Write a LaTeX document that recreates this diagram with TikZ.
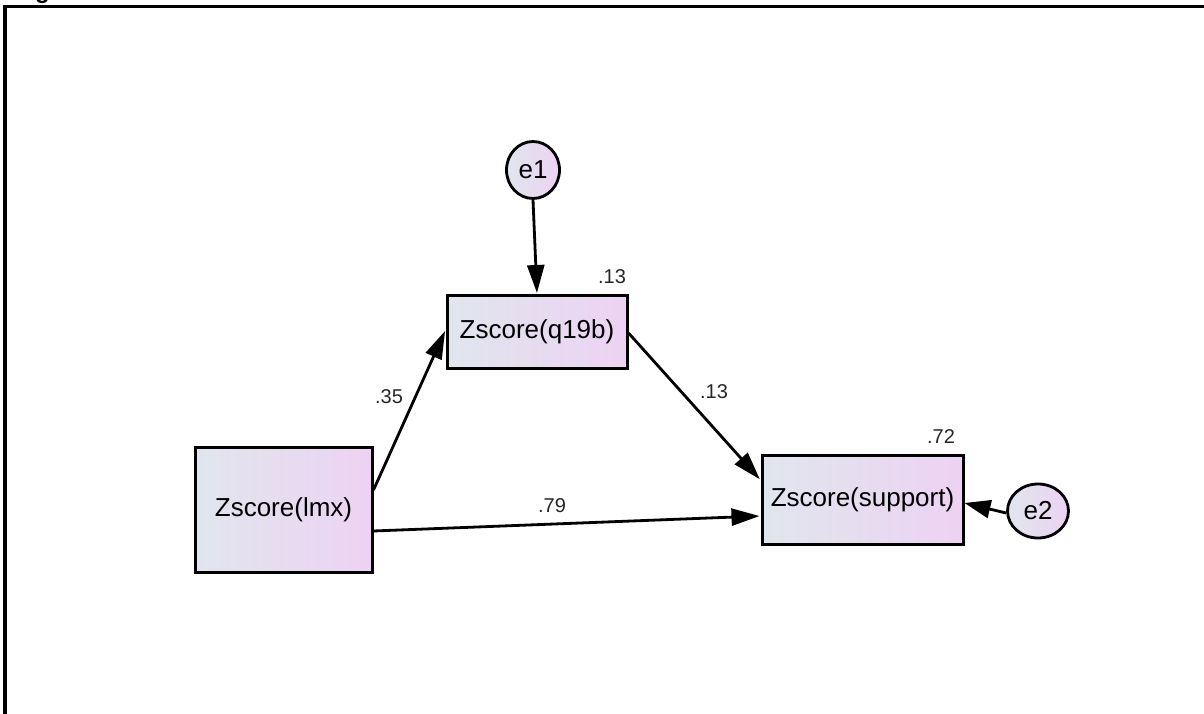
\documentclass[tikz,border=0pt]{standalone}
\usepackage{fontspec}
\setmainfont{Liberation Sans}
\usetikzlibrary{arrows.meta,shapes.geometric}
\definecolor{lgrey}{RGB}{224,230,237}
\definecolor{lpurp}{RGB}{237,210,243}
\tikzset{
  obs/.style={draw=black, line width=3pt, left color=lgrey, right color=lpurp,
    inner sep=0pt, font=\fontsize{26}{30}\selectfont},
  err/.style={ellipse, draw=black, line width=2.8pt, left color=lgrey, right color=lpurp,
    inner sep=0pt, font=\fontsize{26}{30}\selectfont},
  path/.style={line width=2.8pt, -{Triangle[length=28pt,width=17pt]}, shorten >=1pt},
  coef/.style={font=\fontsize{20}{24}\selectfont, text=black!85},
}
\begin{document}
\begin{tikzpicture}[x=1pt,y=-1pt]
\useasboundingbox (0,0) rectangle (1204,714);
% frame
\draw[line width=3.2pt] (5,714) -- (5,6.5) -- (1204,6.5);
\node[anchor=base west, font=\bfseries\fontsize{24}{28}\selectfont, inner sep=0pt] (g) at (35,-1) {g};
% nodes
\node[obs, minimum width=180pt, minimum height=73pt] (q) at (537,332) {Zscore(q19b)};
\node[obs, minimum width=177pt, minimum height=125pt] (lmx) at (283.5,509.5) {Zscore(lmx)};
\node[obs, minimum width=201pt, minimum height=89pt] (sup) at (862.5,499.5) {Zscore(support)};
\node[err, minimum width=53pt, minimum height=57pt] (e1) at (533,170) {e1};
\node[err, minimum width=61pt, minimum height=54pt] (e2) at (1038,511) {e2};
% paths
\draw[path] (e1.south) -- (q.north);
\draw[path] ([yshift=19.5pt]lmx.east) -- ([yshift=2pt]q.west);
\draw[path] ([yshift=-1pt]q.east) -- ([yshift=19.5pt]sup.west);
\draw[path] ([yshift=-21.5pt]lmx.east) -- ([yshift=-16.5pt]sup.west);
\draw[line width=2.8pt, -{Triangle[length=26pt,width=18pt]}] ([yshift=-2pt]e2.west) -- ([yshift=-3.5pt]sup.east);
% coefficients
\node[coef] (c1) at (612,277) {.13};
\node[coef] (c2) at (389,397) {.35};
\node[coef] (c3) at (714,392) {.13};
\node[coef] (c4) at (552,506) {.79};
\node[coef] (c5) at (941,437) {.72};
\end{tikzpicture}
\end{document}
